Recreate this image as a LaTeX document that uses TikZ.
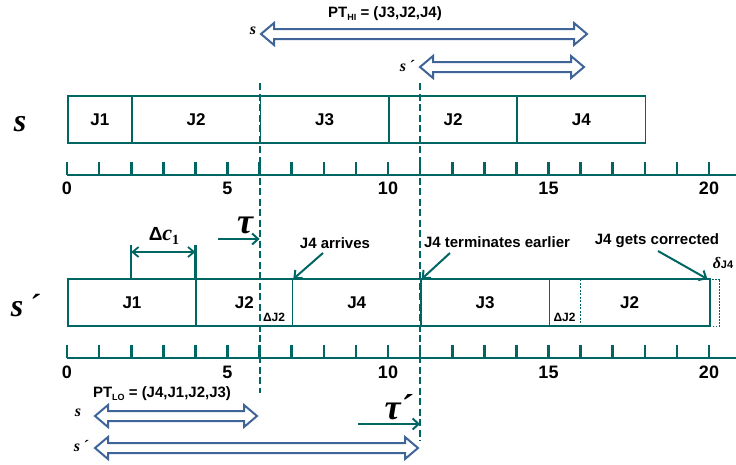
\documentclass[tikz,border=0pt]{standalone}
\usepackage{fontspec}
\setmainfont{Liberation Sans}
\newfontfamily\serifbi[ItalicFont={* Bold Italic}]{Liberation Serif}
\usetikzlibrary{arrows.meta}

\definecolor{tealc}{RGB}{0,102,99}
\definecolor{spanblue}{RGB}{62,100,152}

% hollow two-headed span arrow: left x, right x, y (pixel frame)
\newcommand\spanarrow[3]{%
  \draw[spanline] (#1,#3) -- ({#1+13},{#3-11}) -- ({#1+13},{#3-5})
    -- ({#2-13},{#3-5}) -- ({#2-13},{#3-11}) -- (#2,#3)
    -- ({#2-13},{#3+11}) -- ({#2-13},{#3+5}) -- ({#1+13},{#3+5})
    -- ({#1+13},{#3+11}) -- cycle;}

\tikzset{
  jobbox/.style={draw=tealc, line width=1.6pt, minimum width=#1*32.1pt,
    minimum height=47pt, inner sep=0pt, anchor=west,
    font=\bfseries\fontsize{17}{17}\selectfont},
  tickmark/.style={draw=tealc, line width=2.6pt},
  axisline/.style={draw=tealc, line width=2.4pt},
  ticklabel/.style={font=\bfseries\fontsize{18}{18}\selectfont, inner sep=0pt},
  cutline/.style={draw=tealc, line width=2pt, dash pattern=on 7pt off 3.5pt},
  spanline/.style={draw=spanblue, line width=2pt, line join=miter, fill=white},
  schedlabel/.style={font=\serifbi\itshape\fontsize{32}{32}\selectfont, inner sep=0pt},
  spanlabel/.style={font=\serifbi\itshape\fontsize{16}{16}\selectfont, inner sep=0pt},
  notelabel/.style={font=\bfseries\fontsize{15}{15}\selectfont, inner sep=0pt},
  smalllabel/.style={font=\bfseries\fontsize{12}{12}\selectfont, inner sep=0pt},
  pointer/.style={draw=tealc, line width=2pt, -{Straight Barb[length=6pt,width=11pt]}},
  tauarrow/.style={draw=tealc, line width=2pt, -{Straight Barb[length=6pt,width=11pt]}},
  greek/.style={font=\serifbi\itshape\fontsize{36}{36}\selectfont, inner sep=0pt},
}

\begin{document}
\begin{tikzpicture}[x=1pt, y=-1pt]
\useasboundingbox (0,0) rectangle (736,464);

% ---------- timeline frame: one unit of time = 32.1pt, t=0 at x=67 ----------
\begin{scope}[x=32.1pt, xshift=67pt]
  % schedule s
  \node[jobbox=2] (a1) at (0,119.5) {J1};
  \node[jobbox=4] (a2) at (2,119.5) {J2};
  \node[jobbox=4] (a3) at (6,119.5) {J3};
  \node[jobbox=4] (a4) at (10,119.5) {J2};
  \node[jobbox=4] (a5) at (14,119.5) {J4};

  % axis under s
  \draw[axisline] (0,175) -- (20.85,175);
  \foreach \t in {0,...,20} \draw[tickmark] (\t,162) -- (\t,175);
  \foreach \t in {0,5,10,15,20} \node[ticklabel] (ta\t) at (\t,188) {\t};

  % schedule s'
  \node[jobbox=4] (b1) at (0,302.5) {J1};
  \node[jobbox=3] (b2) at (4,302.5) {J2};
  \node[jobbox=4] (b3) at (7,302.5) {J4};
  \node[jobbox=4] (b4) at (11,302.5) {J3};
  \node[jobbox=5] (b5) at (15,302.5) {J2};
  \draw[tealc, line width=0.8pt, dash pattern=on 2pt off 1.5pt] (16,279) -- (16,326);
  \draw[tealc, line width=0.6pt, dash pattern=on 1.5pt off 1.5pt]
    (20,279) -- (20.33,279) -- (20.33,326) -- (20,326);
  \node[smalllabel] (dj2a) at (6.45,317) {ΔJ2};
  \node[smalllabel] (dj2b) at (15.5,317) {ΔJ2};

  % axis under s'
  \draw[axisline] (0,358) -- (20.85,358);
  \foreach \t in {0,...,20} \draw[tickmark] (\t,345) -- (\t,358);
  \foreach \t in {0,5,10,15,20} \node[ticklabel] (tb\t) at (\t,372) {\t};

  % cut instants tau and tau'
  \coordinate (tauTop) at (6,83);
  \coordinate (tauBot) at (6,393);
  \coordinate (tau2Top) at (11,83);
  \coordinate (tau2Bot) at (11,441);
  \draw[cutline] (tauTop) -- (tauBot);
  \draw[cutline] (tau2Top) -- (tau2Bot);

  % delta c_1 bracket
  \coordinate (dcL) at (2,245);
  \coordinate (dcR) at (4,245);
  \draw[tealc, line width=2.4pt] (dcL) -- (2,279);
  \draw[tealc, line width=2.4pt] (dcR) -- (4,279);
  \draw[tealc, line width=1.8pt, {Straight Barb[length=6pt,width=10pt]}-{Straight Barb[length=6pt,width=10pt]}]
    (2,252) -- (4,252);

  % arrival points on s'
  \coordinate (arrJ4) at (7.05,279);
  \coordinate (endJ4) at (11.05,279);
  \coordinate (corJ4) at (19.95,279);
  \coordinate (tauHit) at (6,239);
  \coordinate (tau2Hit) at (11,424);
\end{scope}

% ---------- schedule names ----------
\node[schedlabel] (sName) at (20,124) {s};
\node[schedlabel] (s2Name) at (25,306) {s\,´};

% ---------- labels and pointers ----------
\node[inner sep=0pt] (dcLab) at (164,236)
  {{\bfseries\fontsize{19}{19}\selectfont Δ}{\serifbi\itshape\fontsize{22}{22}\selectfont c}\raisebox{-4pt}{\serifbi\bfseries\fontsize{14}{14}\selectfont 1}};

\node[greek] (tauLab) at (245,225) {τ};
\coordinate (tauStart) at (218,239);
\draw[tauarrow] (tauStart) -- (tauHit);

\node[greek] (tau2Lab) at (398,407) {τ\kern-1pt´};
\coordinate (tau2Start) at (358,424);
\draw[tauarrow] (tau2Start) -- (tau2Hit);

\node[notelabel] (nArr) at (335,243) {J4 arrives};
\node[notelabel] (nEnd) at (497,242) {J4 terminates earlier};
\node[notelabel] (nCor) at (657,241) {J4 gets corrected};
\draw[pointer] (323,253) -- (arrJ4);
\draw[pointer] (450,253) -- (endJ4);
\draw[pointer] (658,251) -- (corJ4);

\node[inner sep=0pt] (dJ4) at (723,263)
  {{\serifbi\itshape\fontsize{16}{16}\selectfont δ}{\bfseries\fontsize{11}{11}\selectfont J4}};

% ---------- priority tables with their spans ----------
\node[font=\bfseries\fontsize{15}{15}\selectfont, inner sep=0pt] (ptHI) at (385,14)
  {PT\raisebox{-3pt}{\fontsize{9}{9}\selectfont HI} = (J3,J2,J4)};
\spanarrow{261}{587}{34}
\node[spanlabel] (hiS) at (253,31) {s};
\spanarrow{420}{584}{67}
\node[spanlabel] (hiS2) at (407,66) {s\,´};

\node[font=\bfseries\fontsize{15}{15}\selectfont, inner sep=0pt] (ptLO) at (162,394)
  {PT\raisebox{-3pt}{\fontsize{9}{9}\selectfont LO} = (J4,J1,J2,J3)};
\spanarrow{95}{257}{416}
\node[spanlabel] (loS) at (78,413) {s};
\spanarrow{95}{418}{448}
\node[spanlabel] (loS2) at (81,446) {s\,´};

\end{tikzpicture}
\end{document}
